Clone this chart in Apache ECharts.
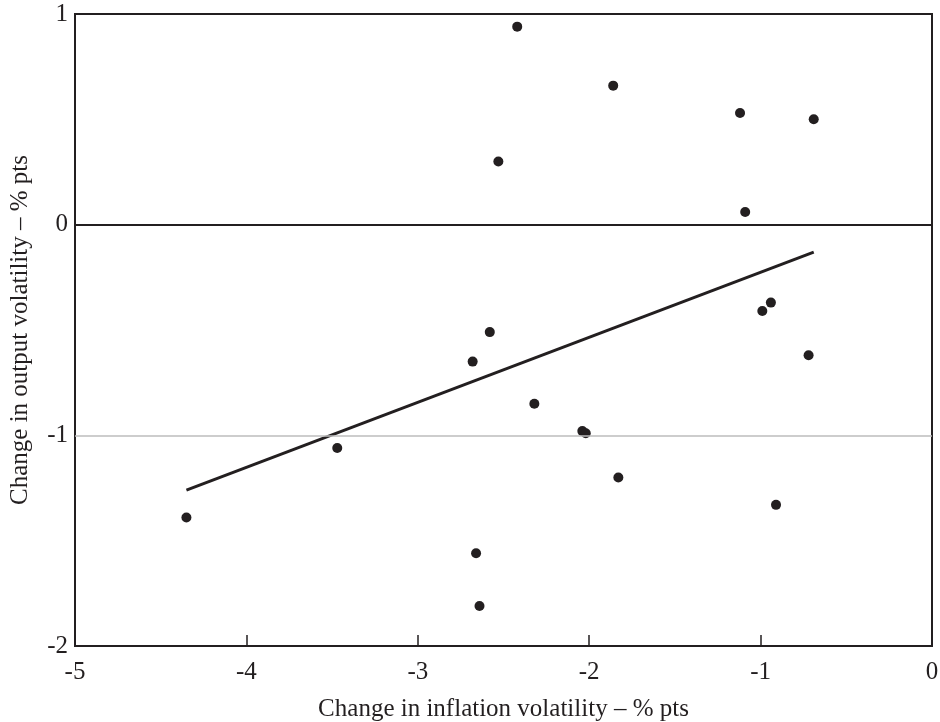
<!DOCTYPE html>
<html>
<head>
<meta charset="utf-8">
<script src="https://cdn.jsdelivr.net/npm/echarts@6/dist/echarts.min.js"></script>
<style>
  html, body { margin: 0; padding: 0; background: #fff; }
  #chart { width: 940px; height: 722px; }
</style>
</head>
<body>
<div id="chart"></div>
<script>
// change in inflation volatility (x) vs change in output volatility (y), % pts
const xVals = [-2.42, -1.86, -1.12, -0.69, -2.53, -1.09, -2.58, -2.68, -2.32, -2.04, -2.02,
  -1.83, -0.94, -0.99, -0.72, -0.91, -4.35, -3.47, -2.66, -2.64]
const yVals = [0.94, 0.66, 0.53, 0.50, 0.30, 0.06, -0.51, -0.65, -0.85, -0.98, -0.99,
  -1.20, -0.37, -0.41, -0.62, -1.33, -1.39, -1.06, -1.56, -1.81]

// fitted line end points
const trendX = [-4.35, -0.69]
const trendY = [-1.26, -0.13]

const xTicks = [-5, -4, -3, -2, -1, 0]
const yTicks = [-2, -1, 0, 1]

const ink = '#231f20'
const font = 'Liberation Serif'

const chart = echarts.init(document.getElementById('chart'))

chart.setOption({
  animation: false,
  backgroundColor: '#fff',
  grid: {
    left: 75, right: 8, top: 14, bottom: 76,
    outerBoundsMode: 'none',
    show: true, borderColor: ink, borderWidth: 2, backgroundColor: 'transparent'
  },
  xAxis: {
    type: 'value',
    min: xTicks[0], max: xTicks[xTicks.length - 1], interval: 1,
    name: 'Change in inflation volatility \u2013 % pts',
    nameLocation: 'middle', nameGap: 51,
    nameTextStyle: { fontFamily: font, fontSize: 25, color: ink },
    axisLine: { show: true, onZero: false, lineStyle: { color: ink, width: 2 } },
    axisTick: { show: true, inside: true, length: 11, lineStyle: { color: ink, width: 1.5 } },
    axisLabel: { fontFamily: font, fontSize: 25, color: ink, margin: 14 },
    splitLine: { show: false }
  },
  yAxis: {
    type: 'value',
    min: yTicks[0], max: yTicks[yTicks.length - 1], interval: 1,
    name: 'Change in output volatility \u2013 % pts',
    nameLocation: 'middle', nameGap: 42,
    nameTextStyle: { fontFamily: font, fontSize: 25, color: ink },
    axisLine: { show: true, onZero: false, lineStyle: { color: ink, width: 2 } },
    axisTick: { show: false },
    axisLabel: { fontFamily: font, fontSize: 25, color: ink, margin: 7 },
    splitLine: { show: false }
  },
  series: [
    {
      type: 'line',
      data: [],
      silent: true,
      markLine: {
        silent: true,
        symbol: 'none',
        label: { show: false },
        data: [
          { yAxis: 0, lineStyle: { color: ink, width: 2, type: 'solid' } },
          { yAxis: -1, lineStyle: { color: '#bdbdbd', width: 1.5, type: 'solid' } }
        ]
      }
    },
    {
      type: 'line',
      data: trendX.map((x, i) => [x, trendY[i]]),
      symbol: 'none',
      lineStyle: { color: ink, width: 3 },
      silent: true
    },
    {
      type: 'scatter',
      data: xVals.map((x, i) => [x, yVals[i]]),
      symbol: 'circle',
      symbolSize: 10,
      itemStyle: { color: ink, opacity: 1 }
    }
  ]
})
</script>
</body>
</html>
